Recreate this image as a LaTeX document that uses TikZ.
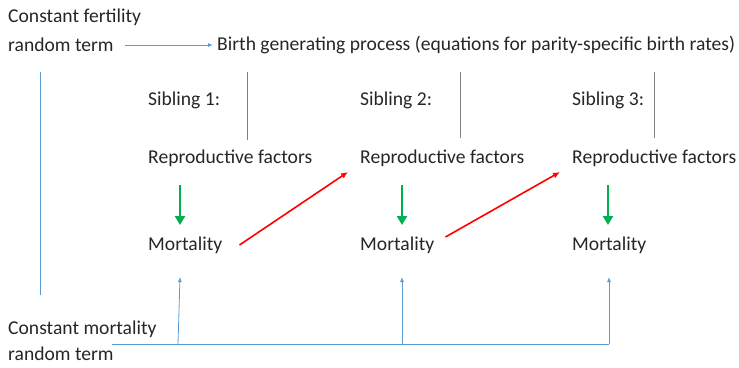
\documentclass[tikz,border=0pt]{standalone}
\usepackage{fontspec}
\setmainfont{Carlito}
\usepackage{tikz}
\usetikzlibrary{arrows.meta,positioning}
\definecolor{lineblue}{RGB}{91,155,213}
\definecolor{arrowgreen}{RGB}{0,176,80}
\tikzstyle{txt}       = [anchor=west, inner sep=0pt, font=\fontsize{19.6}{23}\selectfont, text=black!85]
\tikzstyle{bluearrow} = [lineblue, line width=0.8pt, -{Latex[length=5pt,width=4pt]}]
\tikzstyle{blueline}  = [lineblue, line width=0.8pt]
\tikzstyle{grayline}  = [gray, line width=0.8pt]
\tikzstyle{greenarrow}= [arrowgreen, line width=2.8pt, -{Triangle[length=9pt,width=10pt]}]
\tikzstyle{redarrow}  = [red, line width=1.6pt, -{Latex[length=7pt,width=6pt]}]

\begin{document}
\begin{tikzpicture}[x=1pt,y=-1pt]
        \useasboundingbox (0,0) rectangle (739,367);

        % fertility side
        \node[txt] (fert1) at (8,17) {Constant fertility};
        \node[txt] (fert2) at (8,45) {random term};
        \node[txt] (birth) at (217,45) {Birth generating process (equations for parity-specific birth rates)};
        \coordinate (f0) at (125,45);
        \draw[bluearrow, shorten >=4pt] (f0) -- (birth.west);
        \coordinate (fv1) at (40,72);
        \coordinate (fv2) at (40,295);
        \draw[blueline] (fv1) -- (fv2);

        % siblings
        \node[txt] (sib1) at (148,100) {Sibling 1:};
        \node[txt] (sib2) at (360,100) {Sibling 2:};
        \node[txt] (sib3) at (572,100) {Sibling 3:};
        \coordinate (g1a) at (247,72);  \coordinate (g1b) at (247,140);
        \coordinate (g2a) at (460,72);  \coordinate (g2b) at (460,138);
        \coordinate (g3a) at (654,72);  \coordinate (g3b) at (654,138);
        \draw[grayline] (g1a) -- (g1b);
        \draw[grayline] (g2a) -- (g2b);
        \draw[grayline] (g3a) -- (g3b);

        \node[txt] (rep1) at (148,158) {Reproductive factors};
        \node[txt] (rep2) at (360,158) {Reproductive factors};
        \node[txt] (rep3) at (572,158) {Reproductive factors};

        \node[txt] (mort1) at (148,245) {Mortality};
        \node[txt] (mort2) at (360,245) {Mortality};
        \node[txt] (mort3) at (572,245) {Mortality};

        \draw[greenarrow] (180,185) coordinate (ga1) -- (180,225) coordinate (gb1);
        \draw[greenarrow] (402,185) coordinate (ga2) -- (402,225) coordinate (gb2);
        \draw[greenarrow] (608,185) coordinate (ga3) -- (608,225) coordinate (gb3);

        \draw[redarrow] (mort1.east) ++(17,0) coordinate (r1) -- ([xshift=-12pt,yshift=-14pt]rep2.west);
        \draw[redarrow] (mort2.east) ++(11,-8) coordinate (r2) -- ([xshift=-12pt,yshift=-14pt]rep3.west);

        % mortality side
        \node[txt] (mrt1) at (8,329) {Constant mortality};
        \node[txt] (mrt2) at (8,354) {random term};
        \coordinate (m0) at (112,344);
        \coordinate (m3) at (609,344);
        \draw[blueline] (m0) -- (m3);
        \draw[bluearrow] (178,344) -- (180,277);
        \draw[bluearrow] (402,344) -- (402,277);
        \draw[bluearrow] (m3) -- (609,277);
    \end{tikzpicture}
\end{document}
